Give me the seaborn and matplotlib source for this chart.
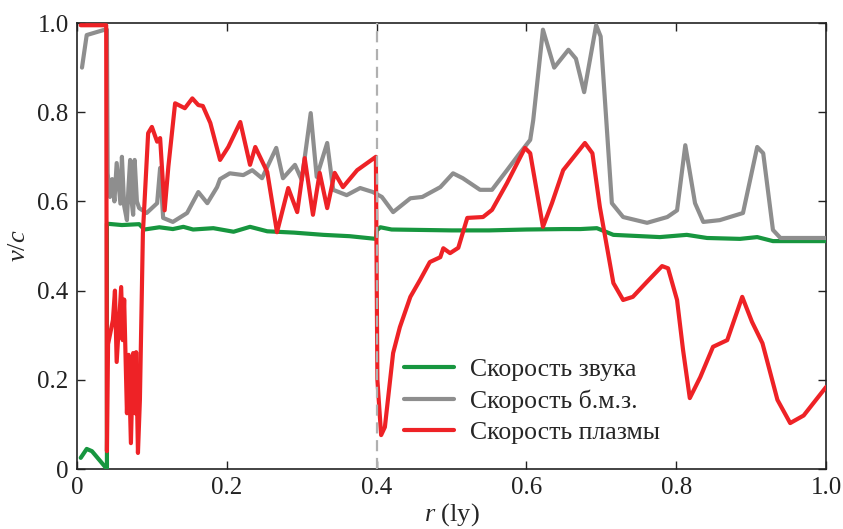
import matplotlib
matplotlib.use("Agg")
import matplotlib.pyplot as plt
import seaborn as sns
import pandas as pd

# ---- data ----
r_sound = [0.005, 0.013, 0.02, 0.03, 0.04, 0.04, 0.06, 0.083, 0.09, 0.11, 0.128, 0.142, 0.155,
           0.182, 0.209, 0.231, 0.254, 0.29, 0.329, 0.364, 0.399, 0.4, 0.405, 0.42, 0.5, 0.55,
           0.6, 0.65, 0.672, 0.694, 0.716, 0.778, 0.814, 0.841, 0.885, 0.908, 0.929, 1.0]
v_sound = [0.025, 0.045, 0.04, 0.02, 0.0, 0.55, 0.547, 0.549, 0.537, 0.542, 0.538, 0.543, 0.537,
           0.54, 0.532, 0.543, 0.533, 0.53, 0.525, 0.522, 0.516, 0.535, 0.542, 0.537, 0.535, 0.535,
           0.537, 0.538, 0.538, 0.54, 0.525, 0.52, 0.525, 0.518, 0.516, 0.52, 0.511, 0.511]

r_fms = [0.0067, 0.013, 0.035, 0.04, 0.041, 0.044, 0.047, 0.05, 0.053, 0.058, 0.06, 0.063, 0.0667,
         0.0687, 0.071, 0.073, 0.075, 0.077, 0.08, 0.083, 0.093, 0.107, 0.111, 0.115, 0.128, 0.147,
         0.162, 0.174, 0.187, 0.191, 0.204, 0.222, 0.234, 0.247, 0.266, 0.275, 0.291, 0.30, 0.312,
         0.32, 0.334, 0.342, 0.36, 0.378, 0.395, 0.407, 0.422, 0.445, 0.461, 0.485, 0.502, 0.515,
         0.538, 0.554, 0.574, 0.591, 0.605, 0.609, 0.622, 0.637, 0.656, 0.666, 0.677, 0.693, 0.699,
         0.714, 0.729, 0.761, 0.788, 0.801, 0.812, 0.825, 0.836, 0.858, 0.889, 0.908, 0.916, 0.929,
         0.939, 1.0]
v_fms = [0.9, 0.973, 0.984, 0.985, 0.663, 0.61, 0.65, 0.6, 0.686, 0.595, 0.70, 0.59, 0.558,
         0.63, 0.693, 0.60, 0.57, 0.693, 0.60, 0.585, 0.574, 0.596, 0.675, 0.563, 0.554, 0.574,
         0.621, 0.596, 0.632, 0.65, 0.663, 0.659, 0.67, 0.652, 0.72, 0.652, 0.682, 0.648, 0.798,
         0.655, 0.731, 0.626, 0.614, 0.63, 0.621, 0.61, 0.576, 0.607, 0.61, 0.632, 0.663, 0.652,
         0.626, 0.626, 0.67, 0.708, 0.738, 0.782, 0.985, 0.90, 0.94, 0.92, 0.845, 0.995, 0.97,
         0.596, 0.565, 0.552, 0.565, 0.58, 0.726, 0.596, 0.554, 0.558, 0.574, 0.722, 0.708, 0.536,
         0.518, 0.518]

r_plasma = [0.005, 0.039, 0.04, 0.0415, 0.048, 0.0507, 0.053, 0.059, 0.061, 0.063, 0.0667, 0.069,
            0.072, 0.075, 0.0774, 0.079, 0.0814, 0.084, 0.088, 0.095, 0.1, 0.107, 0.111, 0.117,
            0.122, 0.131, 0.144, 0.154, 0.162, 0.168, 0.178, 0.191, 0.202, 0.218, 0.231, 0.238,
            0.254, 0.267, 0.282, 0.294, 0.304, 0.315, 0.324, 0.334, 0.344, 0.355, 0.374, 0.399,
            0.401, 0.406, 0.411, 0.422, 0.431, 0.445, 0.458, 0.471, 0.485, 0.489, 0.498, 0.509,
            0.521, 0.542, 0.554, 0.574, 0.598, 0.605, 0.622, 0.634, 0.649, 0.678, 0.688, 0.698,
            0.716, 0.729, 0.742, 0.761, 0.781, 0.789, 0.801, 0.809, 0.818, 0.832, 0.849, 0.868,
            0.888, 0.901, 0.915, 0.935, 0.952, 0.97, 1.0]
v_plasma = [0.995, 0.995, 0.04, 0.28, 0.334, 0.40, 0.24, 0.408, 0.289, 0.38, 0.125, 0.256,
            0.058, 0.26, 0.125, 0.262, 0.036, 0.155, 0.529, 0.753, 0.767, 0.734, 0.742, 0.58,
            0.678, 0.82, 0.809, 0.831, 0.816, 0.814, 0.776, 0.693, 0.722, 0.778, 0.682, 0.722,
            0.666, 0.531, 0.63, 0.576, 0.697, 0.57, 0.664, 0.585, 0.664, 0.632, 0.67, 0.70,
            0.2, 0.076, 0.094, 0.26, 0.318, 0.386, 0.424, 0.464, 0.475, 0.495, 0.484, 0.496,
            0.563, 0.565, 0.581, 0.641, 0.72, 0.708, 0.543, 0.596, 0.67, 0.731, 0.708, 0.587,
            0.417, 0.379, 0.386, 0.42, 0.455, 0.45, 0.379, 0.267, 0.159, 0.206, 0.274, 0.289,
            0.386, 0.33, 0.282, 0.155, 0.103, 0.12, 0.184]

labels = ["Скорость звука", "Скорость б.м.з.", "Скорость плазмы"]
colors = ["#17963f", "#8e8e8e", "#ee2226"]
x_ticks = [0, 0.2, 0.4, 0.6, 0.8, 1.0]
x_ticklabels = ["0", "0.2", "0.4", "0.6", "0.8", "1.0"]
y_ticks = [0, 0.2, 0.4, 0.6, 0.8, 1.0]
y_ticklabels = ["0", "0.2", "0.4", "0.6", "0.8", "1.0"]
r_shock = 0.4

# ---- plot ----
sns.set_theme(style="ticks")
plt.rcParams["font.family"] = ["Liberation Serif", "DejaVu Serif"]
plt.rcParams["mathtext.fontset"] = "custom"
plt.rcParams["mathtext.it"] = "Liberation Serif:italic"
plt.rcParams["mathtext.rm"] = "Liberation Serif"

fig = plt.figure(figsize=(8.43, 5.29), dpi=100)
ax = fig.add_axes([0.0913, 0.1134, 0.8887, 0.8431])

series = [(r_sound, v_sound), (r_fms, v_fms), (r_plasma, v_plasma)]
for (rr, vv), lab, col in zip(series, labels, colors):
    df = pd.DataFrame({"r": rr, "v": vv})
    sns.lineplot(data=df, x="r", y="v", ax=ax, estimator=None, sort=False,
                 color=col, lw=3.0, label=lab, zorder=3)

ax.axvline(r_shock, color="#b0b0b0", lw=1.6, ls=(0, (5, 3)), zorder=4)

ax.set_xlim(0, 1.0)
ax.set_ylim(0, 1.0)
ax.set_xticks(x_ticks)
ax.set_xticklabels(x_ticklabels)
ax.set_yticks(y_ticks)
ax.set_yticklabels(y_ticklabels)
ax.tick_params(direction="in", top=True, right=True, length=6, width=1.0,
               labelsize=18, colors="#222222", pad=6)
for sp in ax.spines.values():
    sp.set_linewidth(1.2)
    sp.set_color("#222222")

ax.set_xlabel(r"$r$ (ly)", fontsize=19, labelpad=1)
ax.set_ylabel(r"$v/c$", fontsize=19, labelpad=5)

leg = ax.legend(loc="upper left", bbox_to_anchor=(0.406, 0.30), frameon=False,
                fontsize=18.5, handlelength=1.95, labelspacing=0.32, handletextpad=0.6)
for h in leg.get_lines():
    h.set_linewidth(3.0)

fig.savefig("out.png", dpi=100)
